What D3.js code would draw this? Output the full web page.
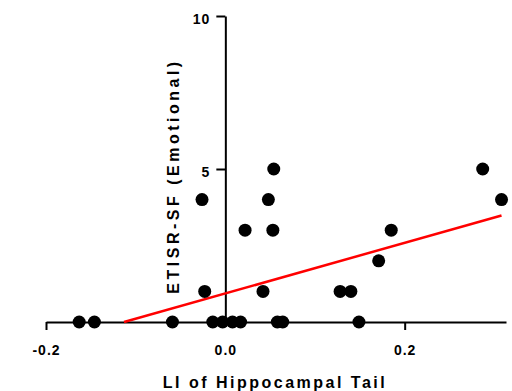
<!DOCTYPE html>
<html>
<head>
<meta charset="utf-8">
<script src="https://cdn.jsdelivr.net/npm/d3@7"></script>
<style>
  body { margin: 0; background: #fff; }
  text { font-family: "Liberation Sans", Arial, sans-serif; font-weight: bold; }
</style>
</head>
<body>
<div id="chart"></div>
<script>
// LI of hippocampal tail vs ETISR-SF (emotional) score
const liValues = [-0.163, -0.146, -0.059, -0.014, -0.003, 0.008, 0.017, 0.058, 0.064, 0.149,
  -0.023, -0.026, 0.022, 0.042, 0.048, 0.053, 0.054, 0.128, 0.140, 0.171, 0.185, 0.287, 0.308];
const etisrValues = [0, 0, 0, 0, 0, 0, 0, 0, 0, 0,
  1, 4, 3, 1, 4, 3, 5, 1, 1, 2, 3, 5, 4];

// linear fit drawn by the original (endpoints)
const fitX = [-0.113, 0.308];
const fitY = [0, 3.48];

const xTicks = [-0.2, 0, 0.2];
const xTickLabels = ['-0.2', '0.0', '0.2'];
const yTicks = [5, 10];

const width = 512, height = 391;

const svg = d3.select('#chart')
  .append('svg')
  .attr('width', width)
  .attr('height', height);

const x = d3.scaleLinear().domain([-0.2, 0.313]).range([46, 506]);
const y = d3.scaleLinear().domain([0, 10]).range([322, 16]);

const xAxis = svg.append('g')
  .attr('transform', `translate(0,${y(0)})`)
  .call(d3.axisBottom(x)
    .tickValues(xTicks)
    .tickFormat((d, i) => xTickLabels[i])
    .tickSize(8)
    .tickSizeOuter(0)
    .tickPadding(15));

const yAxis = svg.append('g')
  .attr('transform', `translate(${x(0)},0)`)
  .call(d3.axisLeft(y)
    .tickValues(yTicks)
    .tickSize(9)
    .tickSizeOuter(0)
    .tickPadding(6));

[xAxis, yAxis].forEach(g => {
  g.selectAll('path, line').attr('stroke', '#000').attr('stroke-width', 2);
  g.selectAll('text')
    .attr('fill', '#000')
    .style('font-size', '14px')
    .style('letter-spacing', '1px');
});
yAxis.selectAll('text').attr('dy', '0.5em');
// hide the tick under the y axis at 0.0
xAxis.selectAll('.tick').filter(d => d === 0).select('line').remove();

svg.append('line')
  .attr('x1', x(fitX[0]))
  .attr('y1', y(fitY[0]))
  .attr('x2', x(fitX[1]))
  .attr('y2', y(fitY[1]))
  .attr('stroke', '#f00')
  .attr('stroke-width', 2.5);

svg.append('g')
  .selectAll('circle')
  .data(liValues)
  .enter()
  .append('circle')
  .attr('cx', d => x(d))
  .attr('cy', (d, i) => y(etisrValues[i]))
  .attr('r', 6.5)
  .attr('fill', '#000');

svg.append('text')
  .attr('x', 246)
  .attr('y', 388)
  .style('font-size', '16px')
  .style('letter-spacing', '2.5px')
  .text('LI of Hippocampal Tail')
  .attr('x', function () { return 245 - this.getComputedTextLength() / 2 + 30; });

svg.append('text')
  .attr('transform', 'translate(179,178) rotate(-90)')
  .style('font-size', '16px')
  .style('letter-spacing', '3.5px')
  .text('ETISR-SF (Emotional)')
  .attr('x', function () { return -this.getComputedTextLength() / 2 + 2; });
</script>
</body>
</html>
